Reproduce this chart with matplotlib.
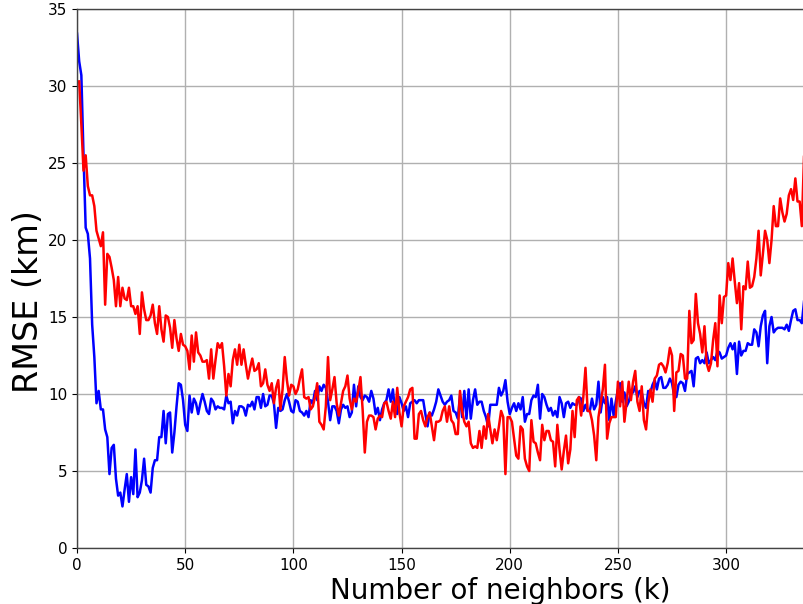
import numpy as np
import matplotlib
matplotlib.use('Agg')
import matplotlib.pyplot as plt

# RMSE per neighbour count, first method (k starts at 0)
rmse_blue = [
    33.4, 31.6, 30.7, 25.5, 20.8, 20.4, 18.8, 14.5, 12.4, 9.4,
    10.2, 9.0, 9.0, 7.7, 7.2, 4.8, 6.5, 6.7, 4.5, 3.4,
    3.6, 2.7, 3.8, 4.8, 3.0, 4.6, 3.5, 6.4, 3.3, 3.6,
    4.4, 5.8, 4.1, 4.0, 3.6, 5.2, 5.7, 5.7, 7.2, 7.2,
    8.9, 6.8, 8.7, 8.8, 6.2, 7.5, 9.2, 10.7, 10.6, 9.6,
    8.0, 7.6, 9.9, 8.8, 9.7, 9.4, 8.7, 9.4, 10.0, 9.5,
    8.9, 8.7, 9.7, 9.5, 9.0, 9.2, 9.1, 9.1, 9.0, 9.9,
    9.4, 9.5, 8.1, 8.9, 8.6, 9.2, 9.2, 9.1, 8.6, 9.3,
    9.2, 9.5, 9.0, 9.8, 9.8, 9.1, 10.0, 9.2, 9.3, 9.9,
    9.9, 9.4, 7.8, 9.1, 8.9, 9.0, 9.6, 10.0, 9.5, 8.9,
    8.8, 9.6, 9.5, 8.9, 8.8, 8.6, 8.9, 8.5, 9.6, 9.4,
    10.2, 9.6, 10.5, 10.2, 10.6, 10.4, 9.5, 8.3, 9.2, 9.2,
    8.9, 8.1, 9.0, 9.3, 9.1, 9.2, 8.5, 8.8, 10.6, 9.2,
    10.5, 9.8, 9.6, 9.9, 9.8, 9.5, 10.2, 9.7, 8.7, 9.1,
    8.3, 9.0, 9.4, 9.6, 10.3, 9.5, 10.3, 8.9, 8.7, 9.8,
    9.4, 8.9, 9.2, 8.5, 9.4, 9.5, 9.6, 9.4, 9.6, 9.6,
    9.6, 8.7, 7.9, 8.8, 8.6, 9.0, 9.5, 10.3, 9.9, 9.5,
    9.3, 9.5, 9.6, 9.9, 8.9, 8.8, 8.4, 9.9, 8.5, 10.2,
    8.4, 10.3, 8.4, 9.6, 10.3, 9.3, 9.5, 9.5, 8.9, 8.5,
    7.9, 9.3, 9.3, 9.3, 9.3, 10.4, 9.9, 10.2, 10.9, 9.5,
    8.7, 9.1, 9.4, 8.9, 9.4, 9.0, 9.8, 8.2, 8.7, 8.7,
    9.6, 9.9, 9.8, 10.6, 8.4, 10.0, 9.8, 9.3, 8.9, 9.1,
    8.6, 8.9, 8.5, 9.8, 9.4, 8.5, 9.4, 9.5, 9.1, 9.4,
    9.3, 9.3, 9.8, 9.7, 8.9, 9.3, 8.9, 8.9, 9.7, 9.0,
    9.3, 10.8, 8.8, 9.8, 9.4, 9.8, 8.3, 9.7, 8.6, 9.5,
    10.3, 10.7, 9.5, 10.1, 9.2, 9.5, 10.1, 10.1, 10.5, 9.8,
    10.2, 10.1, 9.4, 9.1, 10.2, 10.1, 10.6, 10.9, 10.3, 11.0,
    11.1, 10.4, 10.4, 10.6, 11.0, 10.7, 9.9, 9.8, 10.6, 10.8,
    10.7, 10.2, 11.3, 11.4, 11.5, 10.5, 12.3, 12.4, 12.0, 12.2,
    12.0, 12.7, 12.0, 12.2, 12.4, 12.2, 12.8, 12.7, 12.3, 12.4,
    12.5, 13.0, 13.3, 12.9, 13.3, 11.3, 13.4, 12.5, 12.8, 12.8,
    13.3, 13.2, 13.2, 14.2, 14.0, 13.1, 14.4, 15.1, 15.4, 12.0,
    14.4, 15.0, 14.0, 14.2, 14.3, 14.3, 14.3, 14.2, 14.5, 14.1,
    14.8, 15.4, 15.5, 14.8, 14.8, 14.6, 16.0,
]

# RMSE per neighbour count, second method (k starts at 1)
rmse_red = [
    30.3, 27.5, 24.5, 25.5, 23.5, 22.9, 22.9, 22.2, 20.6, 20.1,
    19.6, 20.5, 15.8, 19.1, 18.9, 18.2, 17.4, 15.7, 17.6, 15.7,
    16.9, 16.2, 16.1, 16.9, 15.7, 15.7, 15.2, 15.7, 13.9, 16.6,
    15.5, 14.8, 14.8, 15.1, 15.8, 14.6, 13.9, 15.7, 14.2, 13.4,
    15.1, 15.0, 14.3, 13.0, 14.8, 13.6, 12.8, 13.9, 13.2, 13.1,
    12.8, 11.6, 13.8, 12.1, 14.0, 12.7, 12.5, 12.1, 12.1, 12.2,
    11.0, 12.9, 11.0, 12.2, 13.3, 13.0, 13.3, 11.8, 9.9, 11.3,
    10.5, 12.2, 12.9, 11.9, 13.2, 11.9, 12.9, 11.9, 11.0, 11.7,
    12.3, 11.5, 11.6, 12.0, 10.5, 10.7, 11.6, 10.6, 10.2, 10.7,
    9.4, 10.4, 10.9, 9.0, 10.3, 12.4, 10.9, 9.9, 10.6, 10.5,
    10.0, 10.3, 11.0, 11.6, 9.8, 9.7, 9.8, 9.0, 9.2, 9.8,
    10.7, 8.2, 8.0, 7.7, 9.2, 12.4, 9.6, 10.3, 11.1, 9.4,
    8.6, 9.4, 10.2, 10.5, 11.2, 9.7, 9.0, 9.7, 9.5, 10.2,
    11.1, 9.0, 6.2, 8.2, 8.6, 8.6, 8.5, 7.7, 8.4, 8.6,
    8.5, 9.4, 9.5, 8.9, 8.4, 9.5, 8.5, 10.4, 8.8, 7.9,
    9.2, 9.5, 9.8, 10.3, 10.4, 7.1, 7.1, 8.7, 8.9, 8.3,
    7.9, 8.5, 8.8, 7.9, 7.0, 8.2, 8.2, 8.3, 8.9, 9.2,
    8.2, 9.2, 8.3, 8.1, 7.4, 7.4, 10.2, 8.9, 8.2, 7.9,
    8.2, 6.8, 6.5, 6.6, 6.5, 7.6, 6.5, 7.9, 7.1, 8.7,
    7.7, 6.8, 7.7, 7.0, 7.9, 8.9, 8.5, 4.8, 8.5, 8.5,
    8.2, 7.1, 6.0, 5.8, 7.9, 7.7, 5.8, 5.3, 5.0, 8.3,
    6.9, 6.8, 6.2, 5.7, 8.0, 7.0, 7.6, 7.6, 7.0, 6.9,
    5.3, 8.0, 6.4, 5.1, 6.3, 7.3, 5.5, 6.4, 8.9, 7.2,
    9.6, 9.8, 8.6, 9.8, 11.7, 8.9, 8.9, 8.3, 7.3, 5.7,
    8.5, 9.4, 10.3, 11.9, 7.1, 8.1, 8.5, 8.5, 8.5, 10.8,
    9.2, 10.8, 8.2, 9.5, 10.8, 9.6, 10.8, 11.5, 9.5, 8.9,
    10.5, 8.3, 7.7, 9.4, 10.3, 9.5, 11.0, 11.2, 11.9, 12.0,
    11.8, 11.4, 12.0, 13.0, 12.5, 8.9, 11.4, 11.5, 12.6, 12.5,
    11.0, 11.0, 15.4, 13.3, 13.5, 16.5, 14.6, 13.9, 12.7, 14.4,
    12.0, 11.5, 12.0, 13.5, 14.6, 11.8, 16.4, 14.6, 16.3, 16.4,
    18.5, 17.4, 18.8, 17.3, 15.9, 17.2, 14.2, 17.0, 16.8, 18.6,
    16.9, 17.0, 17.6, 18.8, 20.6, 17.7, 19.1, 20.6, 20.0, 18.5,
    20.0, 22.2, 20.9, 20.9, 22.7, 21.8, 21.2, 21.7, 22.9, 23.3,
    22.6, 24.0, 22.5, 22.5, 20.9, 25.4,
]

k_blue = np.arange(len(rmse_blue))
k_red = np.arange(1, len(rmse_red) + 1)


def plot():
    fig = plt.figure(figsize=(8.04, 6.04), dpi=100)
    ax = fig.add_axes([0.0958, 0.0927, 0.9042, 0.8924])

    ax.plot(k_blue, rmse_blue, color='blue', linewidth=1.8)
    ax.plot(k_red, rmse_red, color='red', linewidth=1.8)

    ax.set_xlim(0, max(k_blue[-1], k_red[-1]))
    ax.set_ylim(0, 35)
    ax.set_yticks(range(0, 36, 5))
    ax.grid(True, color='#b0b0b0', linewidth=1.0)
    ax.set_axisbelow(True)
    ax.tick_params(labelsize=11)
    ax.spines['right'].set_visible(False)
    for side in ['left', 'bottom', 'top']:
        ax.spines[side].set_color('#444444')
        ax.spines[side].set_linewidth(1.0)

    ax.set_xlabel('Number of neighbors (k)', fontsize=20)
    ax.set_ylabel('RMSE (km)', fontsize=24)
    ax.xaxis.set_label_coords(0.582, -0.053)
    ax.yaxis.set_label_coords(-0.044, 0.458)

    fig.savefig('out.png', dpi=100)


plot()
